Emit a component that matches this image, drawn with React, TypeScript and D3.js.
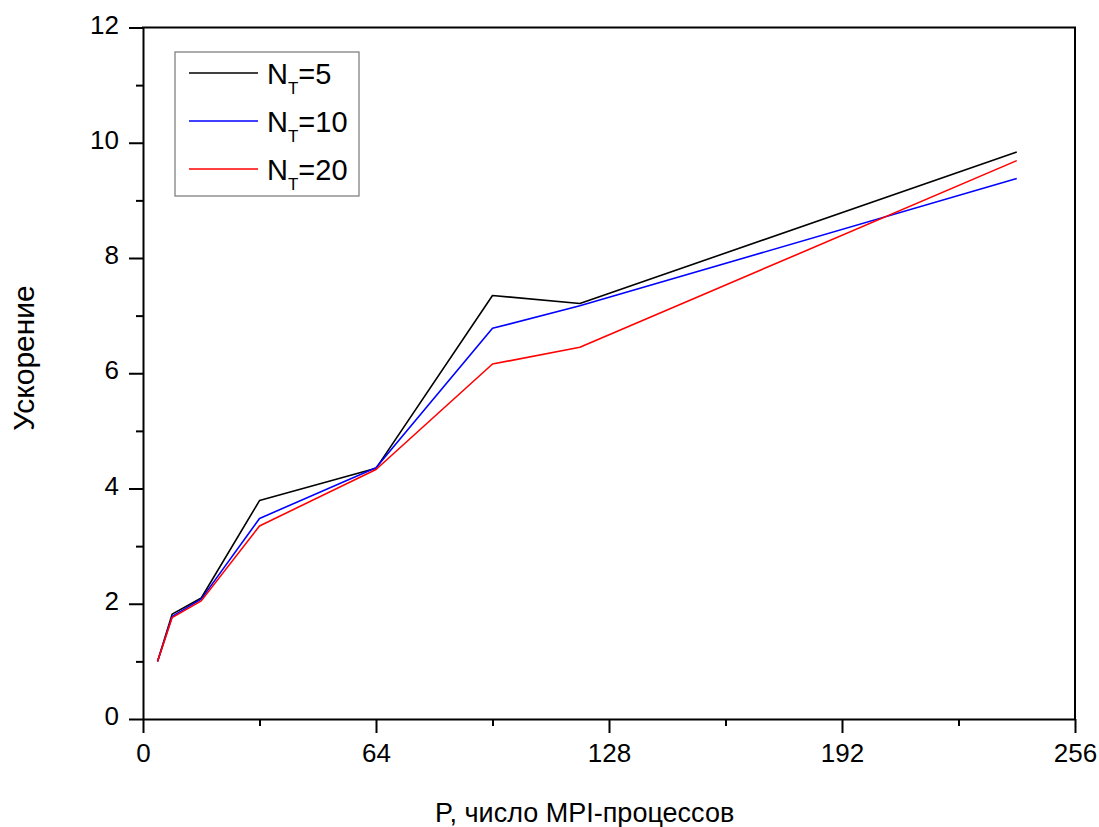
import React, { useEffect, useRef } from 'react'
import * as d3 from 'd3'

// MPI process counts and measured speedups
const procs = [4, 8, 16, 32, 64, 96, 120, 240]
const speedupNT5 = [1.0, 1.82, 2.1, 3.79, 4.35, 7.35, 7.21, 9.84]
const speedupNT10 = [1.0, 1.78, 2.08, 3.48, 4.36, 6.78, 7.17, 9.38]
const speedupNT20 = [1.0, 1.76, 2.05, 3.35, 4.33, 6.16, 6.45, 9.69]

const seriesNames = ['5', '10', '20']
const seriesColors = ['#000000', '#0000ff', '#ff0000']

const xMajorTicks = [0, 64, 128, 192, 256]
const xMinorTicks = [32, 96, 160, 224]
const yMajorTicks = [0, 2, 4, 6, 8, 10, 12]
const yMinorTicks = [1, 3, 5, 7, 9, 11]

const FONT = '"Liberation Sans", Arial, sans-serif'

const App = () => {
  const ref = useRef<SVGSVGElement>(null)

  useEffect(() => {
    const dimensions = {
      width: 1099,
      height: 827,
      margins: { top: 27.5, right: 24, bottom: 108, left: 143 },
    }
    const boundedWidth = dimensions.width - dimensions.margins.left - dimensions.margins.right
    const boundedHeight = dimensions.height - dimensions.margins.top - dimensions.margins.bottom

    const svg = d3.select(ref.current)
    svg.selectAll('*').remove()

    const bounds = svg.append('g')
      .attr('transform', `translate(${dimensions.margins.left},${dimensions.margins.top})`)

    // Scales
    const xScale = d3.scaleLinear().domain([0, 256]).range([0, boundedWidth])
    const yScale = d3.scaleLinear().domain([0, 12]).range([boundedHeight, 0])

    // Data lines
    const series = [speedupNT5, speedupNT10, speedupNT20]
    const line = d3.line<number>()
      .x((_, i) => xScale(procs[i]))
      .y(d => yScale(d))

    series.forEach((values, i) => {
      bounds.append('path')
        .datum(values)
        .attr('d', line)
        .attr('fill', 'none')
        .attr('stroke', seriesColors[i])
        .attr('stroke-width', 1.6)
        .attr('stroke-linejoin', 'round')
    })

    // Axes
    const xAxis = bounds.append('g')
      .attr('transform', `translate(0,${boundedHeight})`)
      .call(d3.axisBottom(xScale).tickValues(xMajorTicks).tickSize(14).tickSizeOuter(0).tickPadding(11))
    xAxis.append('g')
      .call(d3.axisBottom(xScale).tickValues(xMinorTicks).tickSize(7).tickFormat(() => '').tickSizeOuter(0))
      .select('.domain').remove()

    const yAxis = bounds.append('g')
      .call(d3.axisLeft(yScale).tickValues(yMajorTicks).tickSize(14).tickSizeOuter(0).tickPadding(10))
    yAxis.append('g')
      .call(d3.axisLeft(yScale).tickValues(yMinorTicks).tickSize(7).tickFormat(() => '').tickSizeOuter(0))
      .select('.domain').remove()
    yAxis.selectAll('text').attr('dy', '0.22em')

    ;[xAxis, yAxis].forEach(ax => {
      ax.selectAll('path, line').attr('stroke', '#000').attr('stroke-width', 2)
      ax.selectAll('text')
        .attr('fill', '#000')
        .style('font-family', FONT)
        .style('font-size', '26px')
    })

    // Frame top and right
    bounds.append('line')
      .attr('x1', -1).attr('x2', boundedWidth + 1).attr('y1', 0).attr('y2', 0)
      .attr('stroke', '#000').attr('stroke-width', 2)
    bounds.append('line')
      .attr('x1', boundedWidth).attr('x2', boundedWidth).attr('y1', 0).attr('y2', boundedHeight)
      .attr('stroke', '#000').attr('stroke-width', 2)

    // Axis titles
    svg.append('text')
      .attr('x', 435)
      .attr('y', 822)
      .attr('fill', '#000')
      .style('font-family', FONT)
      .style('font-size', '27px')
      .text('P, число MPI-процессов')

    svg.append('text')
      .attr('transform', 'translate(34,358) rotate(-90)')
      .attr('text-anchor', 'middle')
      .attr('fill', '#000')
      .style('font-family', FONT)
      .style('font-size', '30px')
      .text('Ускорение')

    // Legend
    const legend = svg.append('g').attr('transform', 'translate(175,52)')
    legend.append('rect')
      .attr('x', 0).attr('y', 0)
      .attr('width', 184).attr('height', 144)
      .attr('fill', '#fff')
      .attr('stroke', '#777')
      .attr('stroke-width', 1.2)

    seriesNames.forEach((name, i) => {
      const rowY = 21 + i * 48
      legend.append('line')
        .attr('x1', 14).attr('x2', 83)
        .attr('y1', rowY).attr('y2', rowY)
        .attr('stroke', seriesColors[i])
        .attr('stroke-width', 1.3)
      const label = legend.append('text')
        .attr('x', 92)
        .attr('y', rowY + 11)
        .attr('fill', '#000')
        .style('font-family', FONT)
        .style('font-size', '29px')
      label.append('tspan').text('N')
      label.append('tspan')
        .attr('dy', 10)
        .style('font-size', '17px')
        .text('T')
      label.append('tspan')
        .attr('dy', -10)
        .text(`=${name}`)
    })
  }, [])

  return (
    <div style={{ position: 'absolute', left: 0, top: 0 }}>
      <svg ref={ref} width={1099} height={827} style={{ display: 'block', background: '#fff' }} />
    </div>
  )
}

export default App
